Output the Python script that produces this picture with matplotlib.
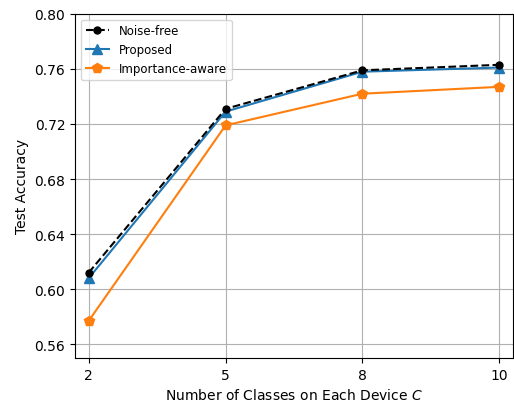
import matplotlib
matplotlib.use("Agg")
import matplotlib.pyplot as plt

classes = ["2", "5", "8", "10"]
noise_free = [0.612, 0.731, 0.759, 0.763]
proposed = [0.608, 0.729, 0.758, 0.761]
importance_aware = [0.577, 0.719, 0.742, 0.747]
y_ticks = [0.56, 0.60, 0.64, 0.68, 0.72, 0.76, 0.80]

x = list(range(len(classes)))

fig = plt.figure(figsize=(5.14, 4.02), dpi=100)
ax = fig.add_axes([0.146, 0.107, 0.852, 0.856])

ax.plot(x, noise_free, "k--", marker="o", markersize=5, label="Noise-free", zorder=4)
ax.plot(x, proposed, color="#1f77b4", marker="^", markersize=7, label="Proposed", zorder=3)
ax.plot(x, importance_aware, color="#ff7f0e", marker="p", markersize=7, label="Importance-aware", zorder=2)

ax.set_xticks(x)
ax.set_xticklabels(classes)
ax.set_yticks(y_ticks)
ax.set_xlim(-0.1, 3.1)
ax.set_ylim(0.55, 0.80)
ax.grid(True)
ax.set_axisbelow(True)
ax.set_xlabel("Number of Classes on Each Device $C$")
ax.set_ylabel("Test Accuracy")
ax.legend(loc="upper left", fontsize=8.5)

fig.savefig("out.png", dpi=100)
